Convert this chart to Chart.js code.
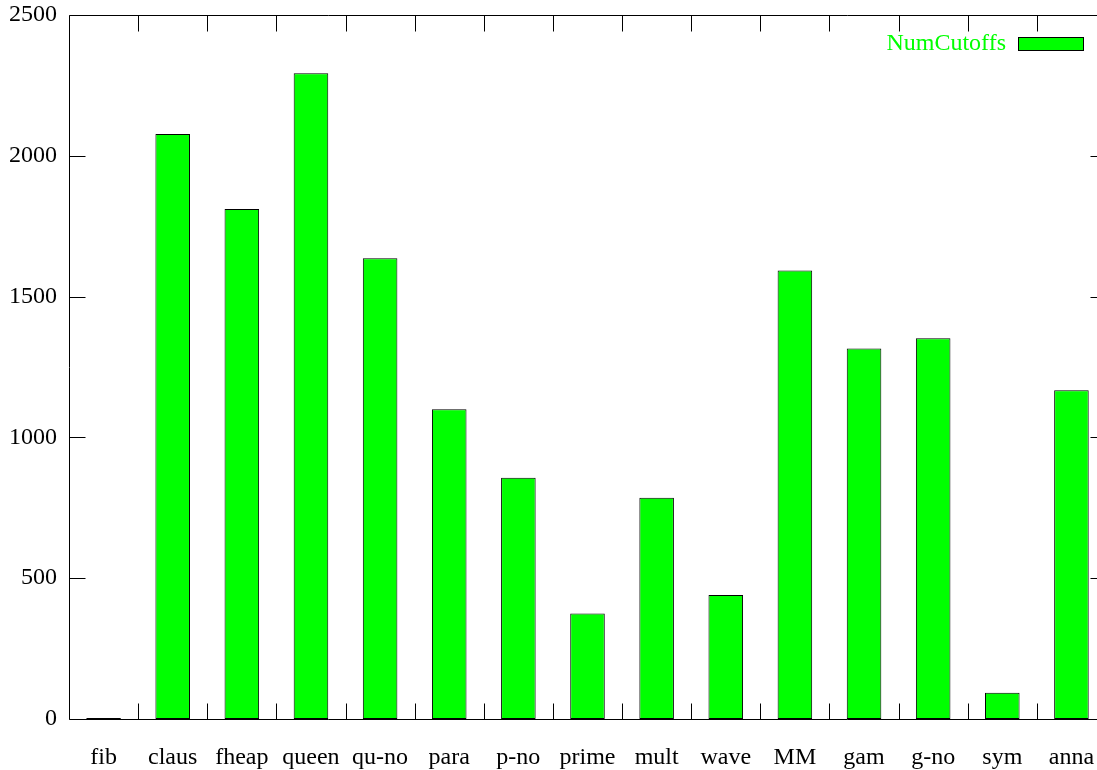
<!DOCTYPE html>
<html>
<head>
<meta charset="utf-8">
<title>NumCutoffs</title>
<script src="https://cdn.jsdelivr.net/npm/chart.js@4/dist/chart.umd.min.js"></script>
<style>
  html, body { margin: 0; padding: 0; background: #fff; overflow: hidden; }
  #wrap { position: relative; width: 1120px; height: 770px; }
</style>
</head>
<body>
<div id="wrap"><canvas id="chart"></canvas></div>
<script>
const categories = ['fib', 'claus', 'fheap', 'queen', 'qu-no', 'para', 'p-no', 'prime',
                    'mult', 'wave', 'MM', 'gam', 'g-no', 'sym', 'anna'];
const numCutoffs = [0, 2077, 1811, 2293, 1636, 1100, 857, 375, 786, 440, 1593, 1316, 1352, 93, 1167];
const yTicks = [0, 500, 1000, 1500, 2000, 2500];
const seriesName = 'NumCutoffs';

const FONT = 'Liberation Serif, Times New Roman, serif';
const GREEN = '#00ff00';
const TICK = 16;

// Frame, inward tick marks on all four sides, and the key in the top-right corner
const framePlugin = {
  id: 'frame',
  afterDraw(chart) {
    const { ctx, chartArea: a, scales: { x, y } } = chart;
    ctx.save();
    ctx.strokeStyle = '#000';
    ctx.lineWidth = 1;
    const L = Math.round(a.left) + 0.5, R = Math.round(a.right) + 0.5;
    const T = Math.round(a.top) + 0.5, B = Math.round(a.bottom) + 0.5;
    ctx.beginPath();
    ctx.rect(L, T, R - L, B - T);
    ctx.stroke();

    ctx.beginPath();
    yTicks.forEach(v => {
      const py = Math.round(y.getPixelForValue(v)) + 0.5;
      ctx.moveTo(L, py); ctx.lineTo(L + TICK, py);
      ctx.moveTo(R, py); ctx.lineTo(R - TICK, py);
    });
    for (let i = 0; i < categories.length - 1; i++) {
      const px = Math.round((x.getPixelForValue(i) + x.getPixelForValue(i + 1)) / 2) + 0.5;
      ctx.moveTo(px, T); ctx.lineTo(px, T + TICK);
      ctx.moveTo(px, B); ctx.lineTo(px, B - TICK);
    }
    ctx.stroke();

    // key
    const ds = chart.data.datasets[0];
    ctx.font = '24px ' + FONT;
    ctx.fillStyle = GREEN;
    ctx.textAlign = 'right';
    ctx.textBaseline = 'middle';
    ctx.fillText(ds.label, 1006, 44);
    ctx.fillStyle = ds.backgroundColor;
    ctx.fillRect(1018, 37, 65, 13);
    ctx.strokeRect(1018.5, 37.5, 65, 13);
    ctx.restore();
  }
};

new Chart(document.getElementById('chart'), {
  type: 'bar',
  data: {
    labels: categories,
    datasets: [{
      label: seriesName,
      data: numCutoffs,
      backgroundColor: GREEN,
      borderColor: '#000',
      borderWidth: 1,
      borderSkipped: false,
      minBarLength: 1,
      barPercentage: 0.5,
      categoryPercentage: 1.0
    }]
  },
  options: {
    responsive: true,
    maintainAspectRatio: false,
    animation: false,
    layout: { autoPadding: false, padding: { top: 15, right: 14, left: 0, bottom: 0 } },
    plugins: { legend: { display: false }, tooltip: { enabled: false } },
    scales: {
      x: {
        grid: { display: false, drawTicks: false },
        border: { display: false },
        ticks: { color: '#000', font: { family: FONT, size: 24 }, padding: 24, maxRotation: 0, autoSkip: false },
        afterFit(s) { s.height = 51; s.paddingLeft = 0; s.paddingRight = 0; }
      },
      y: {
        min: 0, max: 2500,
        afterBuildTicks(s) { s.ticks = yTicks.map(v => ({ value: v })); },
        grid: { display: false, drawTicks: false },
        border: { display: false },
        ticks: { color: '#000', font: { family: FONT, size: 24 }, padding: 12, callback: v => String(v) },
        afterFit(s) { s.width = 69; s.paddingTop = 0; s.paddingBottom = 0; }
      }
    }
  },
  plugins: [framePlugin]
});
</script>
</body>
</html>
